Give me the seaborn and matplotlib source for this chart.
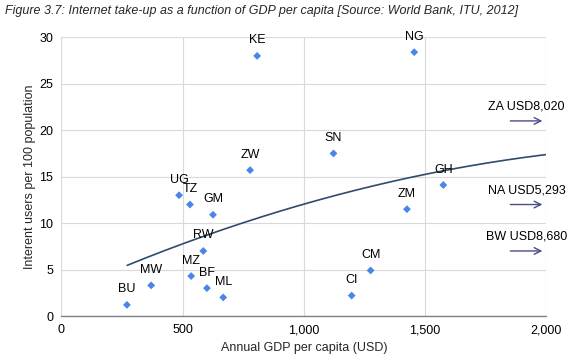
import numpy as np
import pandas as pd
import matplotlib
matplotlib.use("Agg")
import matplotlib.pyplot as plt
import seaborn as sns

countries = ["BU", "MW", "UG", "TZ", "GM", "RW", "MZ", "BF", "ML", "ZW",
             "KE", "SN", "NG", "ZM", "GH", "CM", "CI"]
gdp = [270, 370, 485, 530, 625, 585, 535, 600, 667, 778,
       807, 1122, 1455, 1425, 1575, 1275, 1197]
internet = [1.2, 3.3, 13.0, 12.0, 10.9, 7.0, 4.3, 3.0, 2.0, 15.7,
            28.0, 17.5, 28.4, 11.5, 14.1, 4.9, 2.2]

# trendline values
trend_gdp = [271, 736, 1000, 1231, 1500, 2000]
trend_val = [5.49, 9.8, 12.13, 13.64, 15.28, 17.36]

offchart_labels = ["ZA USD8,020", "NA USD5,293", "BW USD8,680"]
offchart_y = [21.0, 12.0, 7.0]

x_ticks = [0, 500, 1000, 1500, 2000]
x_tick_labels = ["0", "500", "1,000", "1,500", "2,000"]
y_ticks = [0, 5, 10, 15, 20, 25, 30]

sns.set_theme(style="white")
plt.rcParams["font.family"] = ["Liberation Sans", "DejaVu Sans"]

fig = plt.figure(figsize=(5.73, 3.58), dpi=100)
ax = fig.add_axes([0.1073, 0.1173, 0.8462, 0.7785])

df = pd.DataFrame({"country": countries, "gdp": gdp, "internet": internet})

# smooth trend line through the read trend values
coef = np.polyfit(trend_gdp, trend_val, 2)
xs = np.linspace(min(trend_gdp), max(trend_gdp), 200)
trend = pd.DataFrame({"x": xs, "y": np.polyval(coef, xs)})
sns.lineplot(data=trend, x="x", y="y", ax=ax, color="#2e4d6b", linewidth=1.2)

sns.scatterplot(data=df, x="gdp", y="internet", ax=ax, marker="D", s=16,
                color="#4a86e8", edgecolor="none", zorder=3)

for c, xv, yv in zip(countries, gdp, internet):
    ax.annotate(c, (xv, yv), xytext=(0, 15.5), textcoords="offset pixels",
                ha="center", va="center", fontsize=9, color="black")

for lab, yv in zip(offchart_labels, offchart_y):
    ax.annotate("", xy=(1995, yv), xytext=(1840, yv),
                arrowprops=dict(arrowstyle="->", color="#4b4b8c", lw=1.0,
                                mutation_scale=12))
    ax.annotate(lab, (1918, yv), xytext=(0, 14.5), textcoords="offset pixels",
                ha="center", va="center", fontsize=9, color="black")

ax.set_xlim(0, 2000)
ax.set_ylim(0, 30)
ax.set_xticks(x_ticks)
ax.set_xticklabels(x_tick_labels)
ax.set_yticks(y_ticks)
ax.tick_params(axis="both", labelsize=9, length=0, pad=6, colors="black")
ax.grid(True, color="#d9d9d9", linewidth=0.8)
ax.set_axisbelow(True)
for s in ["left", "right", "top"]:
    ax.spines[s].set_visible(False)
ax.spines["bottom"].set_color("#808080")
ax.spines["bottom"].set_linewidth(1.0)

ax.set_xlabel("Annual GDP per capita (USD)", fontsize=9, labelpad=4)
ax.set_ylabel("Interent users per 100 population", fontsize=9, labelpad=2)

fig.text(0.009, 0.969, "Figure 3.7: Internet take-up as a function of GDP per capita [Source: World Bank, ITU, 2012]",
         fontsize=9, style="italic", ha="left", va="center")

fig.savefig("out.png", dpi=100)
